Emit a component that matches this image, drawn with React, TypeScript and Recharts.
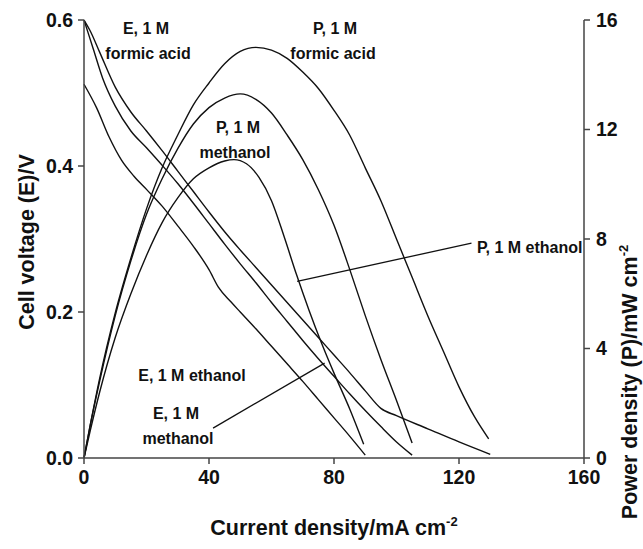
import { Line, LineChart, ReferenceLine, XAxis, YAxis } from "recharts";

// E = cell voltage (V), P = power density (mW cm-2), vs current density (mA cm-2)
const eFormicI = [0, 2, 5, 10, 15, 20, 25, 30, 35, 40, 45, 50, 55, 60, 65, 70, 75, 80, 85, 90, 95, 100, 110, 120, 130];
const eFormicV = [0.6, 0.585, 0.556, 0.508, 0.474, 0.448, 0.421, 0.393, 0.365, 0.337, 0.31, 0.285, 0.261, 0.237, 0.213, 0.189, 0.165, 0.141, 0.117, 0.092, 0.068, 0.058, 0.04, 0.022, 0.005];

const eMethanolI = [0, 3, 6, 10, 15, 20, 25, 30, 35, 40, 45, 50, 55, 60, 65, 70, 75, 80, 85, 90, 95, 100, 105];
const eMethanolV = [0.6, 0.56, 0.52, 0.482, 0.448, 0.425, 0.401, 0.376, 0.349, 0.321, 0.293, 0.266, 0.24, 0.213, 0.187, 0.161, 0.136, 0.112, 0.088, 0.065, 0.043, 0.022, 0.004];

const eEthanolI = [0, 4, 8, 12, 16, 20, 25, 30, 35, 40, 43, 47, 50, 55, 60, 65, 70, 75, 80, 85, 90];
const eEthanolV = [0.512, 0.48, 0.44, 0.408, 0.386, 0.368, 0.345, 0.318, 0.29, 0.258, 0.234, 0.214, 0.2, 0.177, 0.153, 0.129, 0.105, 0.08, 0.055, 0.03, 0.004];

const pFormicI = [0, 2, 5, 10, 15, 20, 25, 30, 35, 40, 45, 50, 55, 60, 65, 70, 75, 80, 85, 90, 95, 100, 105, 110, 115, 120, 125, 129.5];
const pFormicP = [0, 1.2, 2.9, 5.3, 7.3, 9.1, 10.6, 11.8, 12.9, 13.7, 14.4, 14.85, 15.0, 14.9, 14.6, 14.1, 13.5, 12.7, 11.8, 10.6, 9.4, 8.0, 6.6, 5.2, 3.9, 2.6, 1.5, 0.7];

const pMethanolI = [0, 2, 5, 10, 15, 20, 25, 30, 35, 40, 45, 50, 55, 60, 65, 70, 75, 80, 85, 90, 95, 100, 105];
const pMethanolP = [0, 1.2, 2.8, 5.2, 7.2, 8.9, 10.2, 11.3, 12.2, 12.8, 13.15, 13.3, 13.1, 12.6, 11.8, 10.9, 9.8, 8.5, 6.9, 5.2, 3.6, 2.1, 0.55];

const pEthanolI = [0, 2, 5, 10, 15, 20, 25, 30, 35, 40, 45, 48, 52, 56, 60, 64, 68, 72, 76, 80, 85, 89.5];
const pEthanolP = [0, 1.0, 2.4, 4.4, 6.0, 7.4, 8.6, 9.5, 10.2, 10.6, 10.85, 10.9, 10.75, 10.25, 9.4, 8.1, 6.7, 5.4, 4.2, 3.1, 1.8, 0.5];

const xTicks = [0, 40, 80, 120, 160];
const eTicks = [0, 0.2, 0.4, 0.6];
const pTicks = [0, 4, 8, 12, 16];

const toPoints = (xs: number[], ys: number[]) => xs.map((x, i) => ({ x, y: ys[i] }));

const FONT = "'Liberation Sans', Arial, sans-serif";
const tickStyle = { fontSize: 19.5, fontWeight: 700, fill: "#111", fontFamily: FONT };
const axisColor = "#444";

function Overlay() {
  const t = { fontFamily: FONT, fontWeight: 700, fill: "#111" } as const;
  return (
    <svg width={643} height={549} style={{ position: "absolute", left: 0, top: 0, pointerEvents: "none" }}>
      <text {...t} fontSize={21.5} x={334} y={535} textAnchor="middle">
        Current density/mA cm<tspan fontSize={13} dy={-9}>-2</tspan>
      </text>
      <text {...t} fontSize={21.5} transform="translate(34,242) rotate(-90)" textAnchor="middle">
        Cell voltage (E)/V
      </text>
      <text {...t} fontSize={21.5} transform="translate(637,382) rotate(-90)" textAnchor="middle">
        Power density (P)/mW cm<tspan fontSize={13} dy={-9}>-2</tspan>
      </text>
      <g fontSize={16}>
        <text {...t} x={146} y={34} textAnchor="middle">E, 1 M</text>
        <text {...t} x={148} y={59} textAnchor="middle">formic acid</text>
        <text {...t} x={335} y={34} textAnchor="middle">P, 1 M</text>
        <text {...t} x={333} y={59} textAnchor="middle">formic acid</text>
        <text {...t} x={238} y={133} textAnchor="middle">P, 1 M</text>
        <text {...t} x={235} y={158} textAnchor="middle">methanol</text>
        <text {...t} x={477} y={253} textAnchor="start">P, 1 M ethanol</text>
        <text {...t} x={192} y={381} textAnchor="middle">E, 1 M ethanol</text>
        <text {...t} x={176} y={419} textAnchor="middle">E, 1 M</text>
        <text {...t} x={178} y={444} textAnchor="middle">methanol</text>
      </g>
    </svg>
  );
}

export default function App() {
  const line = { type: "monotone" as const, dataKey: "y", stroke: "#111", strokeWidth: 1.4, dot: false, isAnimationActive: false };
  return (
    <div style={{ position: "absolute", left: 0, top: 0, width: 643, height: 549, background: "#fff" }}>
      <LineChart width={643} height={549} margin={{ top: 20, right: 0, left: 0, bottom: 0 }}>
        <XAxis
          type="number"
          dataKey="x"
          domain={[0, 160]}
          ticks={xTicks}
          height={91}
          tick={tickStyle}
          tickSize={6}
          tickMargin={6}
          stroke={axisColor}
          strokeWidth={1.5}
          allowDuplicatedCategory={false}
        />
        <YAxis
          yAxisId="E"
          type="number"
          domain={[0, 0.6]}
          ticks={eTicks}
          width={84}
          tick={tickStyle}
          tickFormatter={(v: number) => v.toFixed(1)}
          tickSize={6}
          tickMargin={5}
          stroke={axisColor}
          strokeWidth={1.5}
        />
        <YAxis
          yAxisId="P"
          orientation="right"
          type="number"
          domain={[0, 16]}
          ticks={pTicks}
          width={59}
          tick={tickStyle}
          tickSize={6}
          tickMargin={6}
          stroke={axisColor}
          strokeWidth={1.5}
        />
        <Line {...line} yAxisId="E" data={toPoints(eFormicI, eFormicV)} />
        <Line {...line} yAxisId="E" data={toPoints(eMethanolI, eMethanolV)} />
        <Line {...line} yAxisId="E" data={toPoints(eEthanolI, eEthanolV)} />
        <Line {...line} yAxisId="P" data={toPoints(pFormicI, pFormicP)} />
        <Line {...line} yAxisId="P" data={toPoints(pMethanolI, pMethanolP)} />
        <Line {...line} yAxisId="P" data={toPoints(pEthanolI, pEthanolP)} />
        <ReferenceLine
          yAxisId="P"
          segment={[{ x: 124, y: 7.85 }, { x: 68.2, y: 6.45 }]}
          stroke="#111"
          strokeWidth={1.3}
        />
        <ReferenceLine
          yAxisId="E"
          segment={[{ x: 41.3, y: 0.041 }, { x: 77, y: 0.13 }]}
          stroke="#111"
          strokeWidth={1.3}
        />
      </LineChart>
      <Overlay />
    </div>
  );
}
